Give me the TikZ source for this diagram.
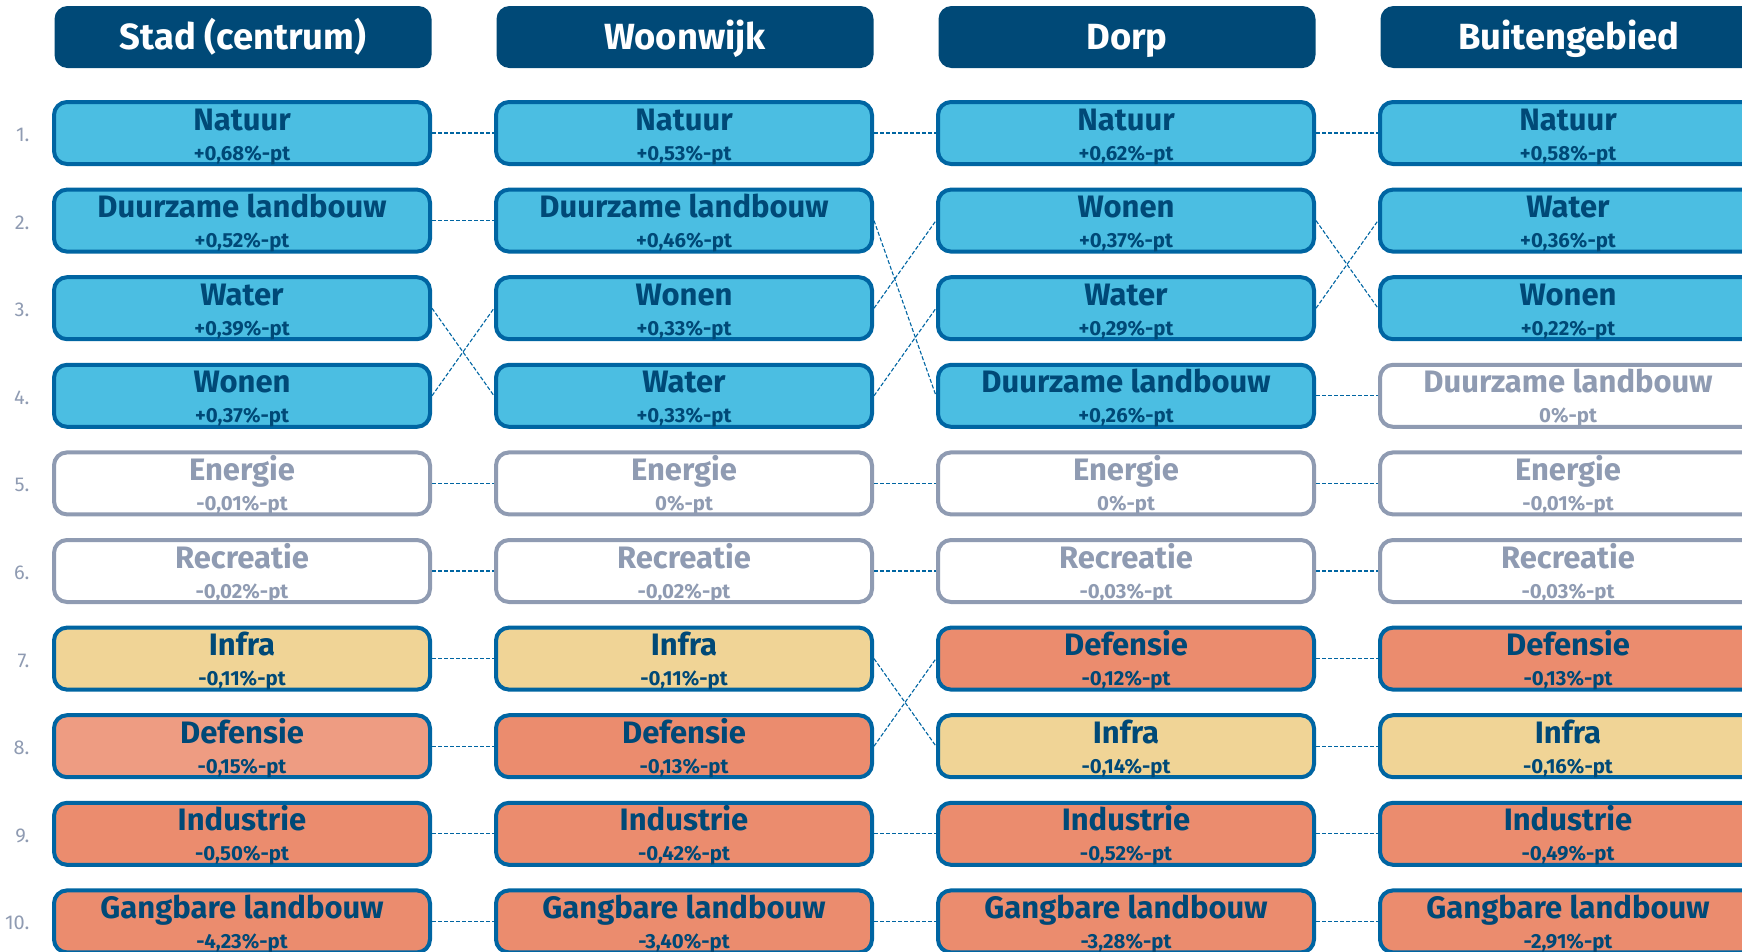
\documentclass[tikz,border=0pt]{standalone}
\usepackage{fontspec}
\setmainfont{Fira Sans}
\definecolor{navy}{HTML}{004977}
\definecolor{rim}{HTML}{0065A2}
\definecolor{sky}{HTML}{4BBEE2}
\definecolor{ash}{HTML}{8F9BB2}
\definecolor{straw}{HTML}{F0D496}
\definecolor{salmon}{HTML}{EB8C6E}
\definecolor{blush}{HTML}{EE9C82}
\begin{document}
\begin{tikzpicture}[x=1pt,y=-1pt,
  head/.style={fill=navy,rounded corners=13pt,minimum width=377pt,minimum height=62pt,inner sep=0pt,
    text=white,font=\fontsize{36.4}{40}\selectfont\bfseries,text height=25pt,text depth=0pt},
  box/.style={draw=rim,line width=4pt,rounded corners=13pt,minimum width=376pt,minimum height=62pt,inner sep=0pt,
    align=center,text=navy,font=\fontsize{31}{30}\selectfont\bfseries,text height=58pt,text depth=4pt},
  plusbox/.style={box,fill=sky},
  nulbox/.style={box,draw=ash,fill=white,text=ash},
  infrabox/.style={box,fill=straw},
  minbox/.style={box,fill=salmon},
  minlbox/.style={box,fill=blush},
  link/.style={draw=rim,line width=1.1pt,dash pattern=on 4pt off 2pt},
  rank/.style={text=ash,font=\fontsize{20}{22}\selectfont,anchor=base east}]
\useasboundingbox (0,0) rectangle (1742,951);
\newcommand\val[1]{\\{\fontsize{20.4}{30}\selectfont#1\%-pt}}
% kolomkoppen
\node[head] (stad) at (243,37) {Stad (centrum)};
\node[head] (woon) at (685,37) {Woonwijk};
\node[head] (dorp) at (1127,37) {Dorp};
\node[head] (buiten) at (1569,37) {Buitengebied};
% rangnummers
\foreach \r in {1,...,10}
  \node[rank] (rank\r) at (33,{141.5+87.6*(\r-1)}) {\r.};
% Stad (centrum)
\foreach \id/\txt/\v/\kind [count=\r] in {natuur/Natuur/{+0,68}/plusbox,duurzaam/Duurzame landbouw/{+0,52}/plusbox,
    water/Water/{+0,39}/plusbox,wonen/Wonen/{+0,37}/plusbox,energie/Energie/{-0,01}/nulbox,recreatie/Recreatie/{-0,02}/nulbox,
    infra/Infra/{-0,11}/infrabox,defensie/Defensie/{-0,15}/minlbox,industrie/Industrie/{-0,50}/minbox,
    gangbaar/Gangbare landbouw/{-4,23}/minbox}
  \node[\kind] (stad-\id) at (242,{133+87.6*(\r-1)}) {\txt\val{\v}};
% Woonwijk
\foreach \id/\txt/\v/\kind [count=\r] in {natuur/Natuur/{+0,53}/plusbox,duurzaam/Duurzame landbouw/{+0,46}/plusbox,
    wonen/Wonen/{+0,33}/plusbox,water/Water/{+0,33}/plusbox,energie/Energie/0/nulbox,recreatie/Recreatie/{-0,02}/nulbox,
    infra/Infra/{-0,11}/infrabox,defensie/Defensie/{-0,13}/minbox,industrie/Industrie/{-0,42}/minbox,
    gangbaar/Gangbare landbouw/{-3,40}/minbox}
  \node[\kind] (woon-\id) at (684,{133+87.6*(\r-1)}) {\txt\val{\v}};
% Dorp
\foreach \id/\txt/\v/\kind [count=\r] in {natuur/Natuur/{+0,62}/plusbox,wonen/Wonen/{+0,37}/plusbox,
    water/Water/{+0,29}/plusbox,duurzaam/Duurzame landbouw/{+0,26}/plusbox,energie/Energie/0/nulbox,recreatie/Recreatie/{-0,03}/nulbox,
    defensie/Defensie/{-0,12}/minbox,infra/Infra/{-0,14}/infrabox,industrie/Industrie/{-0,52}/minbox,
    gangbaar/Gangbare landbouw/{-3,28}/minbox}
  \node[\kind] (dorp-\id) at (1126,{133+87.6*(\r-1)}) {\txt\val{\v}};
% Buitengebied
\foreach \id/\txt/\v/\kind [count=\r] in {natuur/Natuur/{+0,58}/plusbox,water/Water/{+0,36}/plusbox,
    wonen/Wonen/{+0,22}/plusbox,duurzaam/Duurzame landbouw/0/nulbox,energie/Energie/{-0,01}/nulbox,recreatie/Recreatie/{-0,03}/nulbox,
    defensie/Defensie/{-0,13}/minbox,infra/Infra/{-0,16}/infrabox,industrie/Industrie/{-0,49}/minbox,
    gangbaar/Gangbare landbouw/{-2,91}/minbox}
  \node[\kind] (buiten-\id) at (1568,{133+87.6*(\r-1)}) {\txt\val{\v}};
% verbindingen
\foreach \id in {natuur,duurzaam,water,wonen,energie,recreatie,infra,defensie,industrie,gangbaar}{
  \draw[link] (stad-\id.east) -- (woon-\id.west);
  \draw[link] (woon-\id.east) -- (dorp-\id.west);
  \draw[link] (dorp-\id.east) -- (buiten-\id.west);
}
\end{tikzpicture}
\end{document}
